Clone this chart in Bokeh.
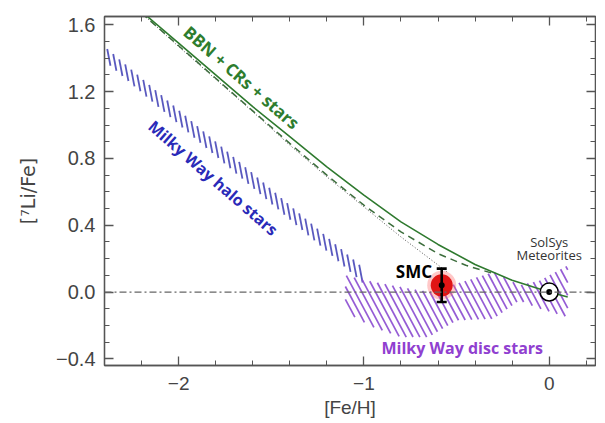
import math
import numpy as np
from bokeh.plotting import figure
from bokeh.models import (Range1d, LinearAxis, FixedTicker, CustomJSTickFormatter,
                          Span, Label, ColumnDataSource)
from bokeh.embed import file_html
from bokeh.resources import INLINE

# ---------------- data ----------------
x_major_ticks = [-2, -1, 0]
x_minor_ticks = [-2.4, -2.2, -2.0, -1.8, -1.6, -1.4, -1.2, -1.0, -0.8, -0.6,
                 -0.4, -0.2, 0.0, 0.2]
y_major_ticks = [-0.4, 0.0, 0.4, 0.8, 1.2, 1.6]
y_minor_ticks = [-0.4, -0.3, -0.2, -0.1, 0.0, 0.1, 0.2, 0.3, 0.4, 0.5, 0.6, 0.7,
                 0.8, 0.9, 1.0, 1.1, 1.2, 1.3, 1.4, 1.5, 1.6]

# BBN + CRs + stars model (solid)
solid_feh = [-2.2, -2.0, -1.8, -1.6, -1.4, -1.2, -1.0, -0.8, -0.6, -0.4, -0.2, 0.0, 0.1]
solid_li = [1.68, 1.49, 1.30, 1.11, 0.93, 0.75, 0.58, 0.42, 0.285, 0.165, 0.07, 0.0, -0.03]
# dashed model
dashed_feh = [-2.2, -2.0, -1.8, -1.6, -1.4, -1.2, -1.0, -0.8, -0.6, -0.45, -0.3]
dashed_li = [1.67, 1.475, 1.28, 1.085, 0.89, 0.70, 0.52, 0.36, 0.23, 0.16, 0.11]
# dotted model
dotted_feh = [-2.2, -2.0, -1.6, -1.4, -1.2, -1.0, -0.8, -0.55]
dotted_li = [1.67, 1.47, 1.08, 0.88, 0.69, 0.51, 0.33, 0.12]

# Milky Way halo stars band
halo_feh = [-2.4, -2.0, -1.6, -1.2, -1.0]
halo_hi = [1.47, 1.09, 0.71, 0.33, 0.14]
halo_lo = [1.385, 1.005, 0.625, 0.245, 0.05]

# Milky Way disc stars band
disc_feh = [-1.10, -0.95, -0.80, -0.65, -0.50, -0.30, -0.16, -0.05, 0.10]
disc_hi = [0.10, 0.06, 0.03, 0.00, 0.05, 0.12, 0.04, 0.07, 0.16]
disc_lo = [-0.12, -0.21, -0.27, -0.27, -0.17, -0.16, -0.05, -0.10, -0.15]

# SMC measurement
smc_feh = [-0.58]
smc_li = [0.04]
smc_err = [0.10]

# Solar system meteorites
sun_feh = [0.0]
sun_li = [0.0]

# ---------------- figure ----------------
X0, X1 = -2.4, 0.25
Y0, Y1 = -0.44, 1.65
FW, FH = 491, 349

p = figure(frame_width=FW, frame_height=FH,
           x_range=Range1d(X0, X1), y_range=Range1d(Y0, Y1),
           output_backend="svg", toolbar_location=None,
           min_border_left=104, min_border_right=1, min_border_top=16,
           min_border_bottom=56)
p.grid.visible = False
p.outline_line_color = "#555555"
p.outline_line_width = 1.3
p.background_fill_color = "white"
p.border_fill_color = "white"

AX = "#555555"
TXT = "#444444"

xt = FixedTicker(ticks=x_major_ticks, minor_ticks=x_minor_ticks)
yt = FixedTicker(ticks=y_major_ticks, minor_ticks=y_minor_ticks)

xfmt = CustomJSTickFormatter(code="""
return (tick < -1e-9 ? '\\u2212' : '') + Math.abs(tick).toFixed(0);
""")
yfmt = CustomJSTickFormatter(code="""
return (tick < -1e-9 ? '\\u2212' : '') + Math.abs(tick).toFixed(1);
""")

def style_axis(ax):
    ax.axis_line_color = AX
    ax.axis_line_width = 1.3
    ax.major_tick_line_color = AX
    ax.minor_tick_line_color = AX
    ax.major_tick_line_width = 1.3
    ax.minor_tick_line_width = 1.0
    ax.major_tick_in = 9
    ax.major_tick_out = 0
    ax.minor_tick_in = 5
    ax.minor_tick_out = 0

xa = p.xaxis[0]
xa.ticker = xt
xa.formatter = xfmt
style_axis(xa)
xa.major_label_text_font = "Liberation Sans"
xa.major_label_text_font_size = "19px"
xa.major_label_text_color = TXT
xa.major_label_standoff = 11
xa.axis_label = "[Fe/H]"
xa.axis_label_text_font = "Liberation Sans"
xa.axis_label_text_font_style = "normal"
xa.axis_label_text_font_size = "19px"
xa.axis_label_text_color = TXT
xa.axis_label_standoff = 4

ya = p.yaxis[0]
ya.ticker = yt
ya.formatter = yfmt
style_axis(ya)
ya.major_label_text_font = "Liberation Sans"
ya.major_label_text_font_size = "20px"
ya.major_label_text_color = TXT
ya.major_label_standoff = 9
ya.axis_label = "[\u2077Li/Fe]"
ya.axis_label_text_font = "DejaVu Sans"
ya.axis_label_text_font_style = "normal"
ya.axis_label_text_font_size = "19px"
ya.axis_label_text_color = TXT
ya.axis_label_standoff = 14

top = LinearAxis(ticker=xt, major_label_text_font_size="1px",
                 major_label_text_color=None, major_label_standoff=0)
style_axis(top)
p.add_layout(top, "above")
right = LinearAxis(ticker=yt, major_label_text_font_size="1px",
                   major_label_text_color=None, major_label_standoff=0)
style_axis(right)
p.add_layout(right, "right")

# zero line
p.add_layout(Span(location=0, dimension="width", line_color="#666666",
                  line_width=1.2, line_dash="7 3 2 3"))


# hatching of a band (lines at a given screen angle, "\" direction)
def hatch(xe, lo, hi, angle_deg, step_px):
    kx = FW / (X1 - X0)
    ky = FH / (Y1 - Y0)
    t = math.tan(math.radians(angle_deg))
    xd = np.linspace(xe[0], xe[-1], 4000)
    lod = np.interp(xd, xe, lo)
    hid = np.interp(xd, xe, hi)
    c_lo = min(np.min(xd * kx + lod * ky / t), np.min(xd * kx + hid * ky / t))
    c_hi = max(np.max(xd * kx + lod * ky / t), np.max(xd * kx + hid * ky / t))
    xs, ys = [], []
    for c in np.arange(c_lo, c_hi, step_px):
        yl = -(xd * kx - c) * t / ky
        inside = (yl >= lod) & (yl <= hid)
        if not inside.any():
            continue
        idx = np.flatnonzero(inside)
        breaks = np.flatnonzero(np.diff(idx) > 1)
        starts = np.concatenate(([idx[0]], idx[breaks + 1]))
        ends = np.concatenate((idx[breaks], [idx[-1]]))
        for a, b in zip(starts, ends):
            xs.append([xd[a], xd[b]])
            ys.append([yl[a], yl[b]])
    return xs, ys


hx, hy = hatch(halo_feh, halo_lo, halo_hi, 79, 5.0)
p.multi_line(hx, hy, line_color="#3c3cb4", line_width=1.8, line_alpha=0.85)
dx, dy = hatch(disc_feh, disc_lo, disc_hi, 62, 6.8)
p.multi_line(dx, dy, line_color="#8a4ad0", line_width=1.7, line_alpha=0.9)

# model lines
p.line(dotted_feh, dotted_li, line_color="#555555", line_width=1.0, line_dash="1 2")
p.line(dashed_feh, dashed_li, line_color="#3d6e3d", line_width=1.5, line_dash="7 5")
p.line(solid_feh, solid_li, line_color="#2f7a2f", line_width=1.6)

# SMC point
smc_src = ColumnDataSource(dict(x=smc_feh, y=smc_li,
                                lo=[smc_li[0] - smc_err[0]], hi=[smc_li[0] + smc_err[0]]))
p.scatter("x", "y", source=smc_src, size=29, fill_color="#ff6060", fill_alpha=0.35,
          line_color=None)
p.scatter("x", "y", source=smc_src, size=22, fill_color="#e01515", line_color=None)
p.segment(x0="x", y0="lo", x1="x", y1="hi", source=smc_src, line_color="black", line_width=2.6)
p.scatter("x", "hi", source=smc_src, marker="dash", size=10, line_color="black", line_width=2.6)
p.scatter("x", "lo", source=smc_src, marker="dash", size=10, line_color="black", line_width=2.6)
p.scatter("x", "y", source=smc_src, size=6, fill_color="black", line_color=None)

# Solar system point
p.scatter(sun_feh, sun_li, size=18, fill_color="white", line_color="black", line_width=1.5)
p.scatter(sun_feh, sun_li, size=6, fill_color="black", line_color=None)

# labels
p.add_layout(Label(x=-1.66, y=1.285, text="BBN + CRs + stars", angle=-41, angle_units="deg",
                   text_align="center", text_baseline="middle", text_color="#2e7d2e",
                   text_font="Open Sans", text_font_style="bold", text_font_size="17px"))
p.add_layout(Label(x=-1.813, y=0.683, text="Milky Way halo stars", angle=-41, angle_units="deg",
                   text_align="center", text_baseline="middle", text_color="#2a2ab8",
                   text_font="Open Sans", text_font_style="bold", text_font_size="16px"))
p.add_layout(Label(x=-0.469, y=-0.335, text="Milky Way disc stars",
                   text_align="center", text_baseline="middle", text_color="#9040d0",
                   text_font="Open Sans", text_font_style="bold", text_font_size="16px"))
p.add_layout(Label(x=-0.73, y=0.125, text="SMC",
                   text_align="center", text_baseline="middle", text_color="black",
                   text_font="Open Sans", text_font_style="bold", text_font_size="17px"))
p.add_layout(Label(x=0.0, y=0.30, text="SolSys",
                   text_align="center", text_baseline="middle", text_color="#333333",
                   text_font="Open Sans", text_font_size="13px"))
p.add_layout(Label(x=0.0, y=0.22, text="Meteorites",
                   text_align="center", text_baseline="middle", text_color="#333333",
                   text_font="Open Sans", text_font_size="13px"))

open("out.html", "w").write(file_html(p, INLINE))
